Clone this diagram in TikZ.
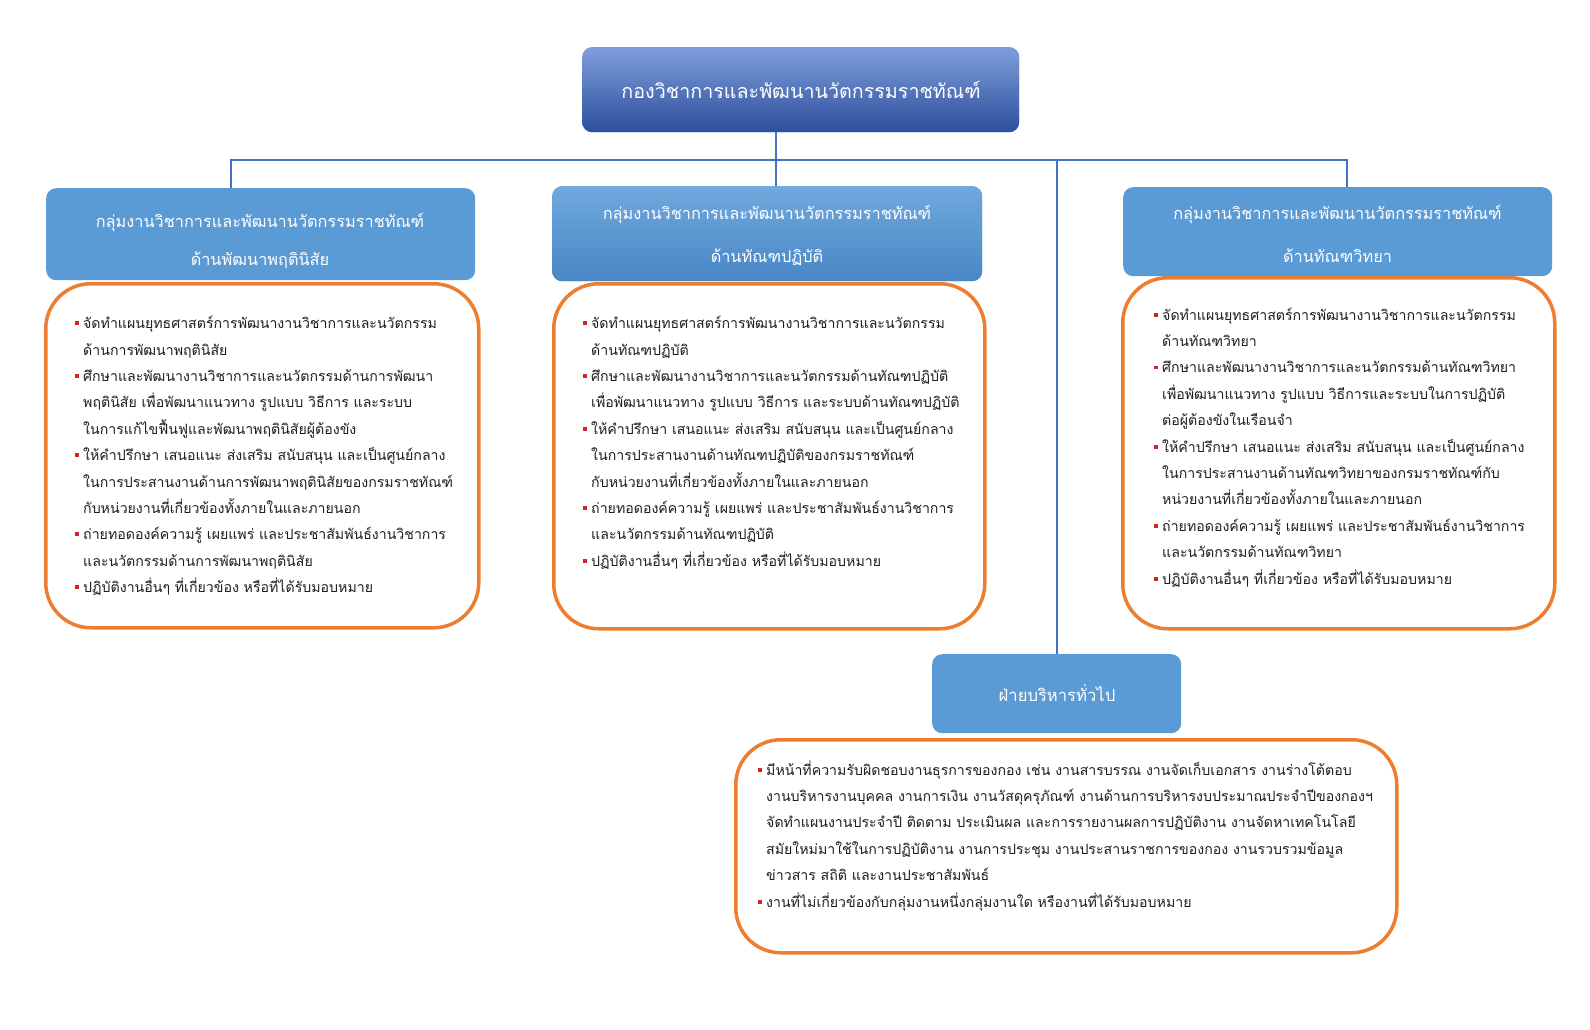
\documentclass[tikz,border=0pt]{standalone}
\usepackage{fontspec}
\setmainfont[Script=Thai]{Loma}
\usetikzlibrary{calc}
\definecolor{conn}{HTML}{4472C4}
\definecolor{hblue}{HTML}{5B9BD5}
\definecolor{orng}{HTML}{ED7D31}
\definecolor{bred}{HTML}{D9202A}
\definecolor{txt}{HTML}{1E1E1E}
\definecolor{toptop}{HTML}{7E9EDB}
\definecolor{topbot}{HTML}{2E4F9D}
\definecolor{midtop}{HTML}{6FA9DE}
\definecolor{midbot}{HTML}{4A86C5}
\newcommand{\bul}{\makebox[8pt][l]{\textcolor{bred}{\rule[3.6pt]{3.8pt}{3.8pt}}}}
\newcommand{\ind}{\makebox[8pt]{}}
\begin{document}
\begin{tikzpicture}[x=1pt,y=-1pt,
  obox/.style={draw=orng, line width=3.5pt, rounded corners=45pt, fill=white, anchor=north west, inner sep=0},
  hdr/.style={rounded corners=10pt, fill=hblue, anchor=north west, inner sep=0},
  body/.style={anchor=north west, align=left, inner sep=0, text=txt, font=\fontsize{14.15}{26.4}\selectfont},
  htxt/.style={align=center, inner sep=0, text=white},
  connline/.style={draw=conn, line width=2pt}]
\useasboundingbox (0,0) rectangle (1590,1029);
\fill[white] (0,0) rectangle (1590,1029);
% orange boxes
\node[obox, minimum width=433pt, minimum height=344pt] (oL) at (44,282) {};
\node[obox, minimum width=431pt, minimum height=345pt] (oM) at (552,282) {};
\node[obox, minimum width=432pt, minimum height=351pt] (oR) at (1121,276) {};
\node[obox, minimum width=661pt, minimum height=213pt] (oA) at (734,738) {};
% header boxes
\node[hdr, minimum width=437pt, minimum height=85pt, top color=toptop, bottom color=topbot] (top) at (582,47) {};
\node[hdr, minimum width=429pt, minimum height=92pt] (hL) at (46,188) {};
\node[hdr, minimum width=430pt, minimum height=95pt, top color=midtop, bottom color=midbot] (hM) at (552,186) {};
\node[hdr, minimum width=429pt, minimum height=89pt] (hR) at (1123,187) {};
\node[hdr, minimum width=249pt, minimum height=79pt] (hA) at (932,654) {};
% connectors
\coordinate (cM) at (776,186);
\coordinate (bus) at (776,160);
\coordinate (cL) at (231,188);
\coordinate (cR) at (1347,187);
\draw[connline] (top.south -| cM) -- (cM);
\draw[connline] (bus) -| (cL);
\draw[connline] (bus) -| (cR);
\draw[connline] (bus) -| (hA.north);
% header texts
\node[htxt, font=\fontsize{19.7}{24}\selectfont, anchor=base] (topt) at (801,98) {กองวิชาการและพัฒนานวัตกรรมราชทัณฑ์};
\node[htxt, font=\fontsize{16.3}{38}\selectfont] (hLt) at (260,238.5) {\strut กลุ่มงานวิชาการและพัฒนานวัตกรรมราชทัณฑ์\\\strut ด้านพัฒนาพฤตินิสัย};
\node[htxt, font=\fontsize{16.3}{43.5}\selectfont] (hMt) at (767,232.5) {\strut กลุ่มงานวิชาการและพัฒนานวัตกรรมราชทัณฑ์\\\strut ด้านทัณฑปฏิบัติ};
\node[htxt, font=\fontsize{16.3}{43.5}\selectfont] (hRt) at (1337.5,232.5) {\strut กลุ่มงานวิชาการและพัฒนานวัตกรรมราชทัณฑ์\\\strut ด้านทัณฑวิทยา};
\node[htxt, font=\fontsize{16.6}{20}\selectfont, anchor=base] (hAt) at (1057,701.5) {ฝ่ายบริหารทั่วไป};
% bodies
\node[body] (bL) at (75,310) {\strut\bul จัดทำแผนยุทธศาสตร์การพัฒนางานวิชาการและนวัตกรรม\\
\ind ด้านการพัฒนาพฤตินิสัย\\
\bul ศึกษาและพัฒนางานวิชาการและนวัตกรรมด้านการพัฒนา\\
\ind พฤตินิสัย เพื่อพัฒนาแนวทาง รูปแบบ วิธีการ และระบบ\\
\ind ในการแก้ไขฟื้นฟูและพัฒนาพฤตินิสัยผู้ต้องขัง\\
\bul ให้คำปรึกษา เสนอแนะ ส่งเสริม สนับสนุน และเป็นศูนย์กลาง\\
\ind ในการประสานงานด้านการพัฒนาพฤตินิสัยของกรมราชทัณฑ์\\
\ind กับหน่วยงานที่เกี่ยวข้องทั้งภายในและภายนอก\\
\bul ถ่ายทอดองค์ความรู้ เผยแพร่ และประชาสัมพันธ์งานวิชาการ\\
\ind และนวัตกรรมด้านการพัฒนาพฤตินิสัย\\
\bul ปฏิบัติงานอื่นๆ ที่เกี่ยวข้อง หรือที่ได้รับมอบหมาย};
\node[body] (bM) at (583,310) {\strut\bul จัดทำแผนยุทธศาสตร์การพัฒนางานวิชาการและนวัตกรรม\\
\ind ด้านทัณฑปฏิบัติ\\
\bul ศึกษาและพัฒนางานวิชาการและนวัตกรรมด้านทัณฑปฏิบัติ\\
\ind เพื่อพัฒนาแนวทาง รูปแบบ วิธีการ และระบบด้านทัณฑปฏิบัติ\\
\bul ให้คำปรึกษา เสนอแนะ ส่งเสริม สนับสนุน และเป็นศูนย์กลาง\\
\ind ในการประสานงานด้านทัณฑปฏิบัติของกรมราชทัณฑ์\\
\ind กับหน่วยงานที่เกี่ยวข้องทั้งภายในและภายนอก\\
\bul ถ่ายทอดองค์ความรู้ เผยแพร่ และประชาสัมพันธ์งานวิชาการ\\
\ind และนวัตกรรมด้านทัณฑปฏิบัติ\\
\bul ปฏิบัติงานอื่นๆ ที่เกี่ยวข้อง หรือที่ได้รับมอบหมาย};
\node[body] (bR) at (1154,301.5) {\strut\bul จัดทำแผนยุทธศาสตร์การพัฒนางานวิชาการและนวัตกรรม\\
\ind ด้านทัณฑวิทยา\\
\bul ศึกษาและพัฒนางานวิชาการและนวัตกรรมด้านทัณฑวิทยา\\
\ind เพื่อพัฒนาแนวทาง รูปแบบ วิธีการและระบบในการปฏิบัติ\\
\ind ต่อผู้ต้องขังในเรือนจำ\\
\bul ให้คำปรึกษา เสนอแนะ ส่งเสริม สนับสนุน และเป็นศูนย์กลาง\\
\ind ในการประสานงานด้านทัณฑวิทยาของกรมราชทัณฑ์กับ\\
\ind หน่วยงานที่เกี่ยวข้องทั้งภายในและภายนอก\\
\bul ถ่ายทอดองค์ความรู้ เผยแพร่ และประชาสัมพันธ์งานวิชาการ\\
\ind และนวัตกรรมด้านทัณฑวิทยา\\
\bul ปฏิบัติงานอื่นๆ ที่เกี่ยวข้อง หรือที่ได้รับมอบหมาย};
\node[body] (bA) at (758,756.5) {\strut\bul มีหน้าที่ความรับผิดชอบงานธุรการของกอง เช่น งานสารบรรณ งานจัดเก็บเอกสาร งานร่างโต้ตอบ\\
\ind งานบริหารงานบุคคล งานการเงิน งานวัสดุครุภัณฑ์ งานด้านการบริหารงบประมาณประจำปีของกองฯ\\
\ind จัดทำแผนงานประจำปี ติดตาม ประเมินผล และการรายงานผลการปฏิบัติงาน งานจัดหาเทคโนโลยี\\
\ind สมัยใหม่มาใช้ในการปฏิบัติงาน งานการประชุม งานประสานราชการของกอง งานรวบรวมข้อมูล\\
\ind ข่าวสาร สถิติ และงานประชาสัมพันธ์\\
\bul งานที่ไม่เกี่ยวข้องกับกลุ่มงานหนึ่งกลุ่มงานใด หรืองานที่ได้รับมอบหมาย};
\end{tikzpicture}
\end{document}
